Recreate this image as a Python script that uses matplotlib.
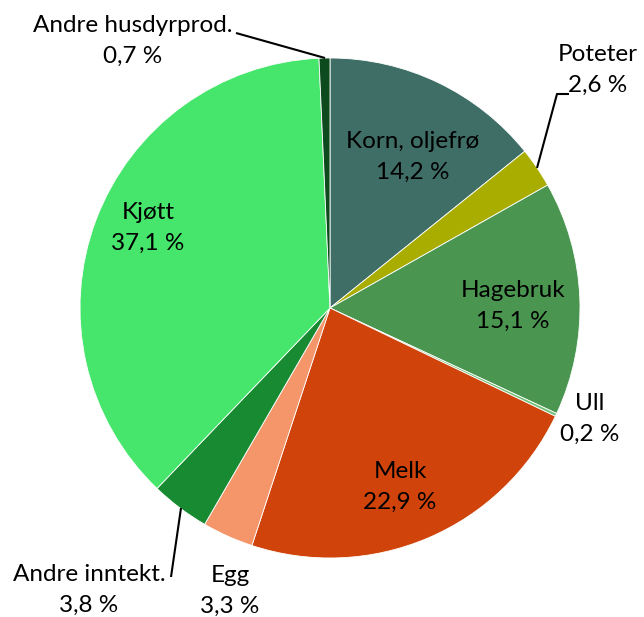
import matplotlib
matplotlib.use("Agg")
import matplotlib.pyplot as plt

categories = ["Korn, oljefrø", "Poteter", "Hagebruk", "Ull", "Melk", "Egg",
              "Andre inntekt.", "Kjøtt", "Andre husdyrprod."]
values = [14.2, 2.6, 15.1, 0.2, 22.9, 3.3, 3.8, 37.1, 0.7]
colors = ["#3e6e66", "#a8ad00", "#4a9650", "#72c27a", "#d0440c", "#f4956a",
          "#178a32", "#46e66c", "#0d4a1e"]

W, H = 644, 617
fig = plt.figure(figsize=(W / 100, H / 100), dpi=100)
ax = fig.add_axes([0, 0, 1, 1])

cx, cy, r = 330, H - 308, 250
ax.pie(values, colors=colors, startangle=90, counterclock=False,
       center=(cx, cy), radius=r, frame=True,
       wedgeprops=dict(edgecolor="white", linewidth=0.6))
ax.set_xlim(0, W)
ax.set_ylim(0, H)
ax.set_aspect("equal")
ax.axis("off")

font = dict(family=["Lato", "DejaVu Sans"], fontsize=17.5, color="black",
            ha="center", va="center")

def fmt(v):
    return f"{v:.1f}".replace(".", ",") + " %"

# label positions (pixel coords, top-origin)
pos = {
    "Korn, oljefrø": (413, 157),
    "Poteter": (598, 70),
    "Hagebruk": (513, 306),
    "Ull": (590, 419),
    "Melk": (400, 487),
    "Egg": (230, 591),
    "Andre inntekt.": (89, 590),
    "Kjøtt": (148, 228),
    "Andre husdyrprod.": (133, 41),
}
for c, v in zip(categories, values):
    x, y = pos[c]
    ax.text(x, H - y, c + "\n" + fmt(v), linespacing=1.58, **font)

def leader(pts):
    xs = [p[0] for p in pts]
    ys = [H - p[1] for p in pts]
    ax.plot(xs, ys, color="black", lw=1.5, solid_capstyle="butt")

leader([(537, 168), (557, 94), (569, 94)])
leader([(236, 33), (325, 58)])
leader([(181, 508), (171, 577)])

fig.savefig("out.png", dpi=100)
